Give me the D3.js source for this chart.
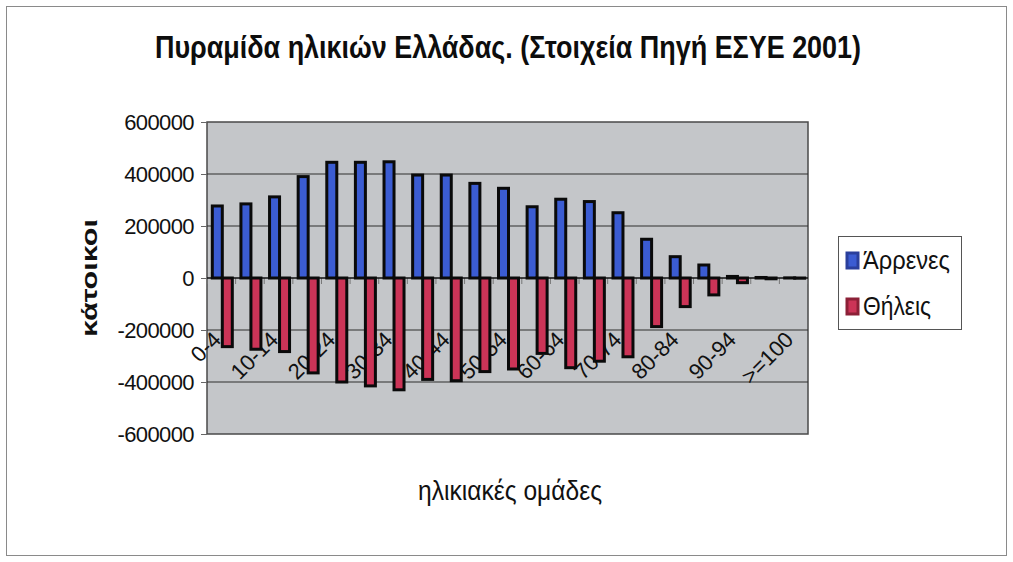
<!DOCTYPE html>
<html><head><meta charset="utf-8">
<script src="https://cdn.jsdelivr.net/npm/d3@7/dist/d3.min.js"></script>
<style>body{margin:0;background:#fff}svg{display:block;font-family:"Liberation Sans",Arial,sans-serif}</style>
</head><body><svg id="c" width="1013" height="562"></svg>
<script>
const title = "Πυραμίδα ηλικιών Ελλάδας. (Στοιχεία Πηγή ΕΣΥΕ 2001)";
const yTitle = "κάτοικοι";
const xTitle = "ηλικιακές ομάδες";
const categories = ["0-4","5-9","10-14","15-19","20-24","25-29","30-34","35-39","40-44","45-49","50-54","55-59","60-64","65-69","70-74","75-79","80-84","85-89","90-94","95-99",">=100"];
const males   = [277000, 285000, 312000, 390000, 445000, 445000, 447000, 396000, 396000, 364000, 345000, 274000, 303000, 294000, 251000, 149000, 82000, 50000, 6000, 2000, 500];
const females = [-264000, -274000, -283000, -365000, -400000, -415000, -430000, -390000, -395000, -360000, -350000, -290000, -345000, -320000, -303000, -187000, -110000, -65000, -18000, -3000, -800];
const seriesNames = ["Άρρενες", "Θήλεις"];
const seriesColors = ["#3b5cd2", "#cc3457"];
const legendColors = ["#2a3f9c", "#8c2037"];
const yTicks = [-600000, -400000, -200000, 0, 200000, 400000, 600000];

const svg = d3.select("#c");
const L = 207, R = 808, T = 122, B = 434;

// outer frame
svg.append("rect").attr("x", 6.5).attr("y", 6.5).attr("width", 1000).attr("height", 549)
  .attr("fill", "#fff").attr("stroke", "#8a8a8a").attr("stroke-width", 1);

const x = d3.scaleBand().domain(categories).range([L, R]).padding(0);
const sub = d3.scaleBand().domain(seriesNames).range([-10, 10]).padding(0);
const y = d3.scaleLinear().domain([-600000, 600000]).range([B, T]);
const bw = x.bandwidth();
const cx = c => x(c) + bw / 2 + 1;

// plot area
svg.append("rect").attr("x", L).attr("y", T).attr("width", R - L).attr("height", B - T)
  .attr("fill", "#c4c6c9").attr("stroke", "#4a4a4a").attr("stroke-width", 1.5);

// gridlines
svg.append("g").selectAll("line").data(yTicks.filter(v => v !== 0 && Math.abs(v) !== 600000)).join("line")
  .attr("x1", L).attr("x2", R).attr("y1", d => y(d)).attr("y2", d => y(d))
  .attr("stroke", "#2e2e2e").attr("stroke-width", 1.2);

// y axis
const yAxis = svg.append("g").attr("transform", `translate(${L},0)`)
  .call(d3.axisLeft(y).tickValues(yTicks).tickSize(6).tickPadding(7).tickFormat(d => String(d)));
yAxis.select(".domain").remove();
yAxis.selectAll(".tick line").attr("stroke", "#666");
yAxis.selectAll("text").attr("font-size", 22).attr("fill", "#111")
  .attr("font-family", "'Liberation Sans',Arial,sans-serif").attr("letter-spacing", "-0.6");

// category axis ticks at zero line
const bounds = categories.map(c => x(c)).concat([R]);
svg.append("g").selectAll("line").data(bounds).join("line")
  .attr("x1", d => d).attr("x2", d => d).attr("y1", y(0)).attr("y2", y(0) + 6)
  .attr("stroke", "#777").attr("stroke-width", 1);

// category labels (every other)
svg.append("g").selectAll("text").data(categories.filter((c, i) => i % 2 === 0)).join("text")
  .attr("transform", d => `translate(${cx(d)},${y(0) + 63}) rotate(-45)`)
  .attr("text-anchor", "end").attr("font-size", 22).attr("fill", "#111")
  .text(d => d);

// zero line
svg.append("line").attr("x1", L).attr("x2", R).attr("y1", y(0)).attr("y2", y(0))
  .attr("stroke", "#111").attr("stroke-width", 1.5);

// bars
const gBars = svg.append("g");
gBars.selectAll("rect.m").data(categories).join("rect").attr("class", "m")
  .attr("x", (d) => cx(d) + sub(seriesNames[0]))
  .attr("width", sub.bandwidth())
  .attr("y", (d, i) => y(males[i]))
  .attr("height", (d, i) => y(0) - y(males[i]))
  .attr("fill", seriesColors[0]).attr("stroke", "#0a0a0a").attr("stroke-width", 3);
gBars.selectAll("rect.f").data(categories).join("rect").attr("class", "f")
  .attr("x", (d) => cx(d) + sub(seriesNames[1]))
  .attr("width", sub.bandwidth())
  .attr("y", y(0))
  .attr("height", (d, i) => y(females[i]) - y(0))
  .attr("fill", seriesColors[1]).attr("stroke", "#0a0a0a").attr("stroke-width", 3);

// titles
svg.append("text").attr("x", 508).attr("y", 58).attr("text-anchor", "middle")
  .attr("font-family", "'Liberation Sans Narrow','Liberation Sans',Arial,sans-serif")
  .attr("font-size", 32).attr("font-weight", "bold").attr("fill", "#0d0d0d")
  .attr("textLength", 706).attr("lengthAdjust", "spacingAndGlyphs").text(title);

svg.append("text").attr("transform", `translate(97,${y(0)}) rotate(-90)`)
  .attr("text-anchor", "middle").attr("font-size", 22).attr("font-weight", "bold").attr("fill", "#111")
  .attr("textLength", 118).attr("lengthAdjust", "spacingAndGlyphs").text(yTitle);

svg.append("text").attr("x", 510).attr("y", 500).attr("text-anchor", "middle")
  .attr("font-size", 27).attr("fill", "#111")
  .attr("textLength", 184).attr("lengthAdjust", "spacingAndGlyphs").text(xTitle);

// legend
const lg = svg.append("g").attr("transform", "translate(838,236)");
lg.append("rect").attr("x", 0.5).attr("y", 0.5).attr("width", 123).attr("height", 93)
  .attr("fill", "#fff").attr("stroke", "#555").attr("stroke-width", 1);
const ly = [25, 71];
const items = lg.selectAll("g.item").data(seriesNames).join("g").attr("class", "item")
  .attr("transform", (d, i) => `translate(0,${ly[i]})`);
items.append("rect").attr("x", 9).attr("y", -8).attr("width", 11).attr("height", 15)
  .attr("fill", (d, i) => seriesColors[i]).attr("stroke", (d, i) => legendColors[i]).attr("stroke-width", 3);
items.append("text").attr("x", 25).attr("y", 8).attr("font-size", 25).attr("fill", "#111")
  .attr("textLength", (d, i) => i === 0 ? 87 : 68).attr("lengthAdjust", "spacingAndGlyphs")
  .text(d => d);
</script></body></html>
